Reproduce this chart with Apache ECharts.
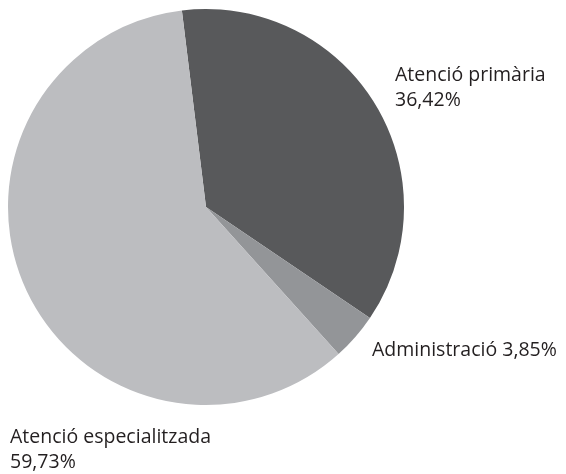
<!DOCTYPE html>
<html lang="ca">
<head>
    <meta charset="UTF-8">
    <title>Despesa</title>
    <script type="text/javascript" src="https://cdn.jsdelivr.net/npm/echarts@6/dist/echarts.min.js"></script>
    <style>
        html, body { margin: 0; padding: 0; background: #fff; }
    </style>
</head>
<body>
<div id="main" style="width: 566px;height: 474px"></div>

<script>
    var categories = ['Atenció primària', 'Administració', 'Atenció especialitzada'];
    var values = [36.42, 3.85, 59.73];
    var colors = ['#58595b', '#939598', '#bcbdc0'];

    // where each label sits (left, top) and whether it breaks into two lines
    var labelPos = [[395, 63], [372, 338], [10, 425]];
    var labelBreak = [true, false, true];

    var chartDom = document.getElementById('main');
    var myChart = echarts.init(chartDom);

    function labelText(i) {
        var pct = values[i].toFixed(2).replace('.', ',') + '%';
        return categories[i] + (labelBreak[i] ? '\n' : ' ') + pct;
    }

    var option = {
        animation: false,
        graphic: categories.map(function (c, i) {
            return {
                type: 'text',
                left: labelPos[i][0],
                top: labelPos[i][1],
                silent: true,
                style: {
                    text: labelText(i),
                    fill: '#231f20',
                    font: '19.5px "Open Sans"',
                    lineHeight: 25
                }
            };
        }),
        series: [
            {
                type: 'pie',
                center: [206, 207],
                radius: 198,
                startAngle: 97,
                clockwise: true,
                data: categories.map(function (c, i) {
                    return { name: c, value: values[i], itemStyle: { color: colors[i] } };
                }),
                label: { show: false },
                labelLine: { show: false },
                emphasis: { disabled: true }
            }
        ]
    };

    myChart.setOption(option);
</script>
</body>
</html>
